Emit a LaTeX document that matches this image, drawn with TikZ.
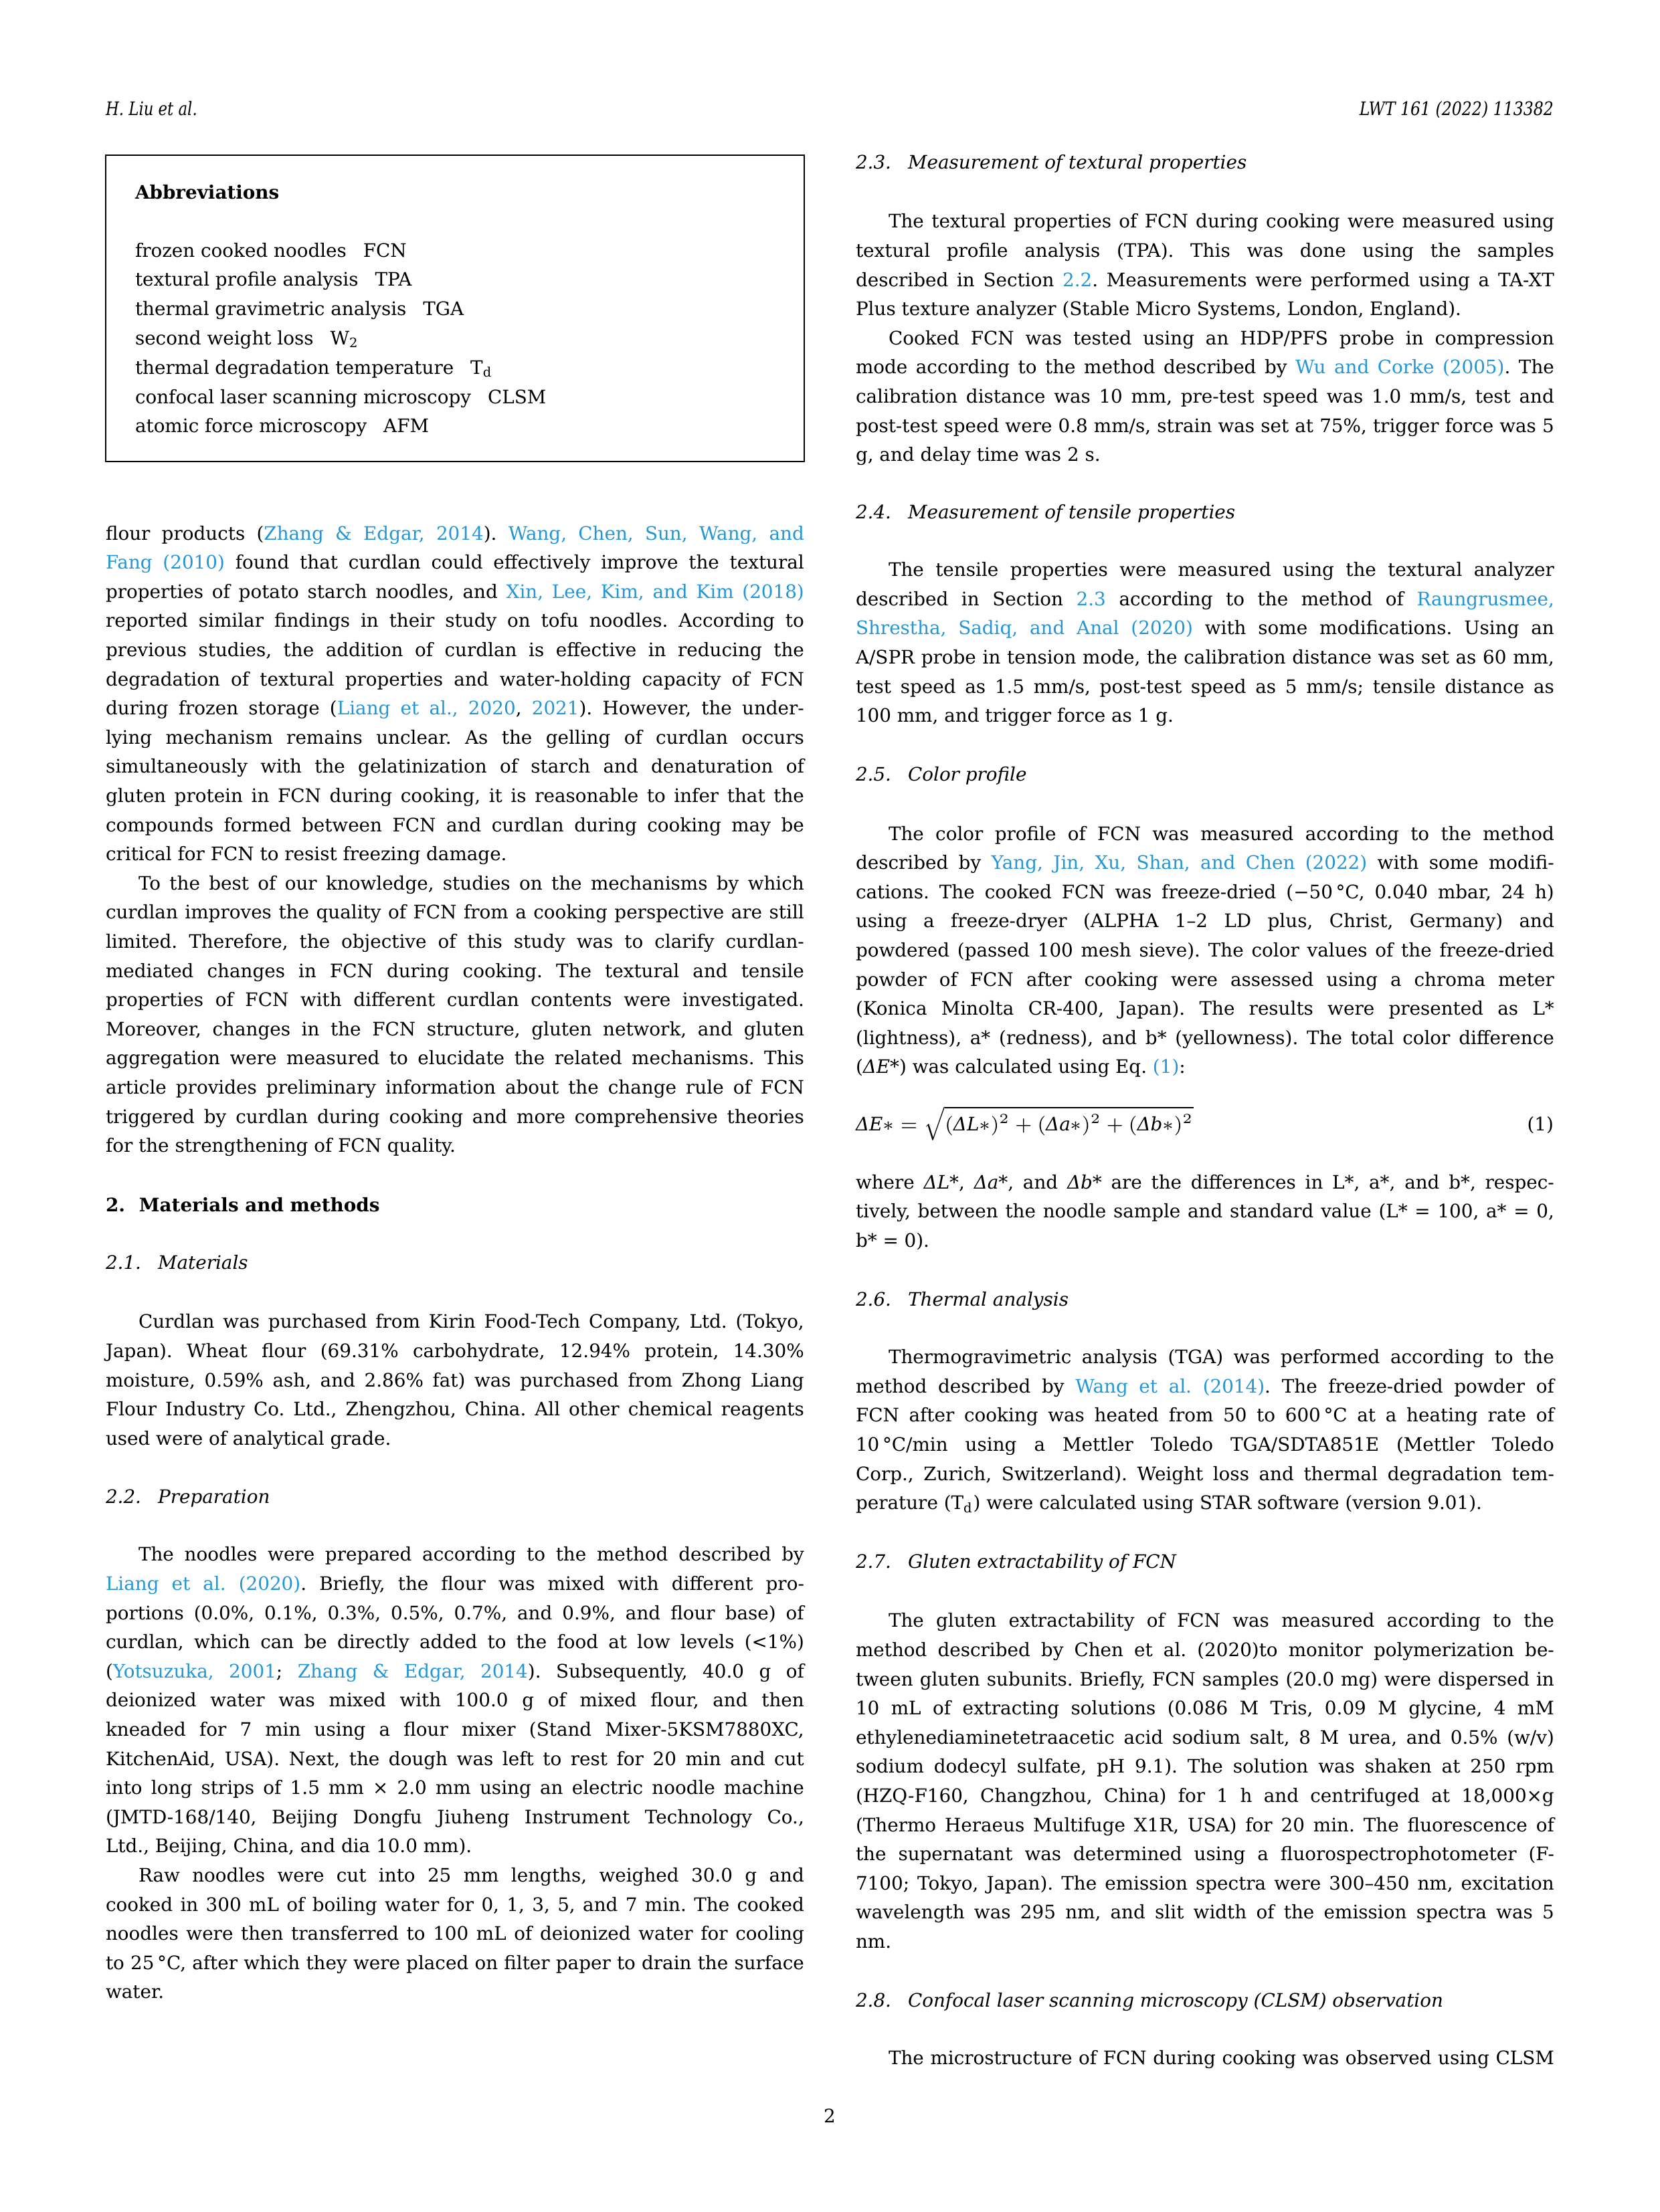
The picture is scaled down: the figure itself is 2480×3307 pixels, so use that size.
\documentclass[tikz,border=0pt]{standalone}
\usepackage{amsmath}
\usepackage{graphicx}
\usepackage{fontspec}
\setmainfont{DejaVu Serif}
\usetikzlibrary{positioning}
\frenchspacing

\definecolor{linkblue}{RGB}{35,150,215}
\newcommand{\pagefont}{\fontsize{6.7pt}{10.4pt}\selectfont}
\newcommand{\lk}[1]{\textcolor{linkblue}{#1}}
\newlength{\colw}\setlength{\colw}{8.840cm}
\newlength{\indw}\setlength{\indw}{8.425cm}
\newsavebox{\linebox}
% justify a line to #1, squeeze it a little if it is too long
\newcommand{\fitline}[2]{\sbox{\linebox}{#2}\ifdim\wd\linebox>#1\relax\resizebox{#1}{\height}{\usebox{\linebox}}\else\makebox[#1][s]{#2}\fi}

\tikzset{
  txt/.style={anchor=base west,inner sep=0pt,outer sep=0pt,font=\pagefont},
  heading/.style={txt,font=\pagefont\itshape},
  boxline/.style={line width=0.45pt}
}
% full line, indented first line, last line of a paragraph
\newcommand{\jline}[4]{\node[txt] (#1) at (#2,#3) {\fitline{\colw}{#4}};}
\newcommand{\iline}[4]{\node[txt] (#1) at (#2+49,#3) {\fitline{\indw}{#4}};}
\newcommand{\eline}[4]{\node[txt] (#1) at (#2,#3) {#4};}

\begin{document}
\begin{tikzpicture}[x=0.0084677cm,y=-0.0084677cm]
  % Page
  \fill[white] (0,0) rectangle (2480,3307);
  \useasboundingbox (0,0) rectangle (2480,3307);
  % Running head
  \node[heading] (author) at (158,172) {\scalebox{0.82}[1]{H. Liu et al.}};
  \node[heading,anchor=base east] (journal) at (2322,172) {\scalebox{0.85}[1]{LWT 161 (2022) 113382}};
  \node[txt,anchor=base] (pageno) at (1240,3173) {2};

  % Abbreviations box
  \draw[boxline] (158,232) rectangle (1202,690);
  \node[txt,font=\pagefont\bfseries] (abbr) at (202,297) {Abbreviations};
  \node[txt] (t1) at (202,384) {frozen cooked noodles};
  \node[txt] (t2) at (202,384+43.8) {textural profile analysis};
  \node[txt] (t3) at (202,384+2*43.8) {thermal gravimetric analysis};
  \node[txt] (t4) at (202,384+3*43.8) {second weight loss};
  \node[txt] (t5) at (202,384+4*43.8) {thermal degradation temperature};
  \node[txt] (t6) at (202,384+5*43.8) {confocal laser scanning microscopy};
  \node[txt] (t7) at (202,384+6*43.8) {atomic force microscopy};
  \node[txt] (c1) at ([xshift=6pt]t1.base east) {FCN};
  \node[txt] (c2) at ([xshift=6pt]t2.base east) {TPA};
  \node[txt] (c3) at ([xshift=6pt]t3.base east) {TGA};
  \node[txt] (c4) at ([xshift=6pt]t4.base east) {W\textsubscript{2}};
  \node[txt] (c5) at ([xshift=6pt]t5.base east) {T\textsubscript{d}};
  \node[txt] (c6) at ([xshift=6pt]t6.base east) {CLSM};
  \node[txt] (c7) at ([xshift=6pt]t7.base east) {AFM};

  % Left column: introduction, end
  \jline{a1}{158}{807}{flour products (\lk{Zhang \& Edgar, 2014}). \lk{Wang, Chen, Sun, Wang, and}}
  \jline{a2}{158}{807+43.6}{\lk{Fang (2010)} found that curdlan could effectively improve the textural}
  \jline{a3}{158}{807+2*43.6}{properties of potato starch noodles, and \lk{Xin, Lee, Kim, and Kim (2018)}}
  \jline{a4}{158}{807+3*43.6}{reported similar findings in their study on tofu noodles. According to}
  \jline{a5}{158}{807+4*43.6}{previous studies, the addition of curdlan is effective in reducing the}
  \jline{a6}{158}{807+5*43.6}{degradation of textural properties and water-holding capacity of FCN}
  \jline{a7}{158}{807+6*43.6}{during frozen storage (\lk{Liang et al., 2020}, \lk{2021}). However, the under-}
  \jline{a8}{158}{807+7*43.6}{lying mechanism remains unclear. As the gelling of curdlan occurs}
  \jline{a9}{158}{807+8*43.6}{simultaneously with the gelatinization of starch and denaturation of}
  \jline{a10}{158}{807+9*43.6}{gluten protein in FCN during cooking, it is reasonable to infer that the}
  \jline{a11}{158}{807+10*43.6}{compounds formed between FCN and curdlan during cooking may be}
  \eline{a12}{158}{807+11*43.6}{critical for FCN to resist freezing damage.}
  \iline{b1}{158}{807+12*43.6}{To the best of our knowledge, studies on the mechanisms by which}
  \jline{b2}{158}{807+13*43.6}{curdlan improves the quality of FCN from a cooking perspective are still}
  \jline{b3}{158}{807+14*43.6}{limited. Therefore, the objective of this study was to clarify curdlan-}
  \jline{b4}{158}{807+15*43.6}{mediated changes in FCN during cooking. The textural and tensile}
  \jline{b5}{158}{807+16*43.6}{properties of FCN with different curdlan contents were investigated.}
  \jline{b6}{158}{807+17*43.6}{Moreover, changes in the FCN structure, gluten network, and gluten}
  \jline{b7}{158}{807+18*43.6}{aggregation were measured to elucidate the related mechanisms. This}
  \jline{b8}{158}{807+19*43.6}{article provides preliminary information about the change rule of FCN}
  \jline{b9}{158}{807+20*43.6}{triggered by curdlan during cooking and more comprehensive theories}
  \eline{b10}{158}{807+21*43.6}{for the strengthening of FCN quality.}

  % Left column: section 2
  \node[txt,font=\pagefont\bfseries] (s2) at (158,1811) {2.\hspace{0.75em}Materials and methods};
  \node[heading] (s21) at (158,1897.3) {2.1.\hspace{0.9em}Materials};
  \iline{c1l}{158}{1985.8}{Curdlan was purchased from Kirin Food-Tech Company, Ltd. (Tokyo,}
  \jline{c2l}{158}{1985.8+43.6}{Japan). Wheat flour (69.31\% carbohydrate, 12.94\% protein, 14.30\%}
  \jline{c3l}{158}{1985.8+2*43.6}{moisture, 0.59\% ash, and 2.86\% fat) was purchased from Zhong Liang}
  \jline{c4l}{158}{1985.8+3*43.6}{Flour Industry Co. Ltd., Zhengzhou, China. All other chemical reagents}
  \eline{c5l}{158}{1985.8+4*43.6}{used were of analytical grade.}
  \node[heading] (s22) at (158,2247.3) {2.2.\hspace{0.9em}Preparation};
  \iline{d1}{158}{2333.8}{The noodles were prepared according to the method described by}
  \jline{d2}{158}{2333.8+43.6}{\lk{Liang et al. (2020)}. Briefly, the flour was mixed with different pro-}
  \jline{d3}{158}{2333.8+2*43.6}{portions (0.0\%, 0.1\%, 0.3\%, 0.5\%, 0.7\%, and 0.9\%, and flour base) of}
  \jline{d4}{158}{2333.8+3*43.6}{curdlan, which can be directly added to the food at low levels (<1\%)}
  \jline{d5}{158}{2333.8+4*43.6}{(\lk{Yotsuzuka, 2001}; \lk{Zhang \& Edgar, 2014}). Subsequently, 40.0 g of}
  \jline{d6}{158}{2333.8+5*43.6}{deionized water was mixed with 100.0 g of mixed flour, and then}
  \jline{d7}{158}{2333.8+6*43.6}{kneaded for 7 min using a flour mixer (Stand Mixer-5KSM7880XC,}
  \jline{d8}{158}{2333.8+7*43.6}{KitchenAid, USA). Next, the dough was left to rest for 20 min and cut}
  \jline{d9}{158}{2333.8+8*43.6}{into long strips of 1.5 mm × 2.0 mm using an electric noodle machine}
  \jline{d10}{158}{2333.8+9*43.6}{(JMTD-168/140, Beijing Dongfu Jiuheng Instrument Technology Co.,}
  \eline{d11}{158}{2333.8+10*43.6}{Ltd., Beijing, China, and dia 10.0 mm).}
  \iline{e1}{158}{2813.4}{Raw noodles were cut into 25 mm lengths, weighed 30.0 g and}
  \jline{e2}{158}{2813.4+43.6}{cooked in 300 mL of boiling water for 0, 1, 3, 5, and 7 min. The cooked}
  \jline{e3}{158}{2813.4+2*43.6}{noodles were then transferred to 100 mL of deionized water for cooling}
  \jline{e4}{158}{2813.4+3*43.6}{to 25\,°C, after which they were placed on filter paper to drain the surface}
  \eline{e5}{158}{2813.4+4*43.6}{water.}

  % Right column: 2.3 and 2.4
  \node[heading] (s23) at (1279,252.2) {2.3.\hspace{0.9em}Measurement of textural properties};
  \iline{f1}{1279}{340.8}{The textural properties of FCN during cooking were measured using}
  \jline{f2}{1279}{340.8+43.6}{textural profile analysis (TPA). This was done using the samples}
  \jline{f3}{1279}{340.8+2*43.6}{described in Section \lk{2.2}. Measurements were performed using a TA-XT}
  \eline{f4}{1279}{340.8+3*43.6}{Plus texture analyzer (Stable Micro Systems, London, England).}
  \iline{f5}{1279}{340.8+4*43.6}{Cooked FCN was tested using an HDP/PFS probe in compression}
  \jline{f6}{1279}{340.8+5*43.6}{mode according to the method described by \lk{Wu and Corke (2005)}. The}
  \jline{f7}{1279}{340.8+6*43.6}{calibration distance was 10 mm, pre-test speed was 1.0 mm/s, test and}
  \jline{f8}{1279}{340.8+7*43.6}{post-test speed were 0.8 mm/s, strain was set at 75\%, trigger force was 5}
  \eline{f9}{1279}{340.8+8*43.6}{g, and delay time was 2 s.}
  \node[heading] (s24) at (1279,775.3) {2.4.\hspace{0.9em}Measurement of tensile properties};
  \iline{g1}{1279}{861.7}{The tensile properties were measured using the textural analyzer}
  \jline{g2}{1279}{861.7+43.6}{described in Section \lk{2.3} according to the method of \lk{Raungrusmee,}}
  \jline{g3}{1279}{861.7+2*43.6}{\lk{Shrestha, Sadiq, and Anal (2020)} with some modifications. Using an}
  \jline{g4}{1279}{861.7+3*43.6}{A/SPR probe in tension mode, the calibration distance was set as 60 mm,}
  \jline{g5}{1279}{861.7+4*43.6}{test speed as 1.5 mm/s, post-test speed as 5 mm/s; tensile distance as}
  \eline{g6}{1279}{861.7+5*43.6}{100 mm, and trigger force as 1 g.}

  % Right column: 2.5 colour
  \node[heading] (s25) at (1279,1167.5) {2.5.\hspace{0.9em}Color profile};
  \iline{h1}{1279}{1256.1}{The color profile of FCN was measured according to the method}
  \jline{h2}{1279}{1256.1+43.6}{described by \lk{Yang, Jin, Xu, Shan, and Chen (2022)} with some modifi-}
  \jline{h3}{1279}{1256.1+2*43.6}{cations. The cooked FCN was freeze-dried (−50\,°C, 0.040 mbar, 24 h)}
  \jline{h4}{1279}{1256.1+3*43.6}{using a freeze-dryer (ALPHA 1–2 LD plus, Christ, Germany) and}
  \jline{h5}{1279}{1256.1+4*43.6}{powdered (passed 100 mesh sieve). The color values of the freeze-dried}
  \jline{h6}{1279}{1256.1+5*43.6}{powder of FCN after cooking were assessed using a chroma meter}
  \jline{h7}{1279}{1256.1+6*43.6}{(Konica Minolta CR-400, Japan). The results were presented as L*}
  \jline{h8}{1279}{1256.1+7*43.6}{(lightness), a* (redness), and b* (yellowness). The total color difference}
  \eline{h9}{1279}{1256.1+8*43.6}{(\textit{ΔE*}) was calculated using Eq. \lk{(1)}:}
  % Equation (1)
  \node[txt] (eq) at (1279,1690.6) {$\textit{ΔE}{\ast}=\sqrt{\left(\textit{ΔL}{\ast}\right)^{2}+\left(\textit{Δa}{\ast}\right)^{2}+\left(\textit{Δb}{\ast}\right)^{2}}$};
  \node[txt,anchor=base east] (eqno) at (2322,1690.6) {(1)};
  \jline{i1}{1279}{1777}{where \textit{ΔL*}, \textit{Δa*}, and \textit{Δb*} are the differences in L*, a*, and b*, respec-}
  \jline{i2}{1279}{1777+43.6}{tively, between the noodle sample and standard value (L* = 100, a* = 0,}
  \eline{i3}{1279}{1777+2*43.6}{b* = 0).}

  % Right column: 2.6 to 2.8
  \node[heading] (s26) at (1279,1952.1) {2.6.\hspace{0.9em}Thermal analysis};
  \iline{j1}{1279}{2038.6}{Thermogravimetric analysis (TGA) was performed according to the}
  \jline{j2}{1279}{2038.6+43.6}{method described by \lk{Wang et al. (2014)}. The freeze-dried powder of}
  \jline{j3}{1279}{2038.6+2*43.6}{FCN after cooking was heated from 50 to 600\,°C at a heating rate of}
  \jline{j4}{1279}{2038.6+3*43.6}{10\,°C/min using a Mettler Toledo TGA/SDTA851E (Mettler Toledo}
  \jline{j5}{1279}{2038.6+4*43.6}{Corp., Zurich, Switzerland). Weight loss and thermal degradation tem-}
  \eline{j6}{1279}{2038.6+5*43.6}{perature (T\textsubscript{d}) were calculated using STAR software (version 9.01).}
  \node[heading] (s27) at (1279,2344.4) {2.7.\hspace{0.9em}Gluten extractability of FCN};
  \iline{k1}{1279}{2432.9}{The gluten extractability of FCN was measured according to the}
  \jline{k2}{1279}{2432.9+43.6}{method described by Chen et al. (2020)to monitor polymerization be-}
  \jline{k3}{1279}{2432.9+2*43.6}{tween gluten subunits. Briefly, FCN samples (20.0 mg) were dispersed in}
  \jline{k4}{1279}{2432.9+3*43.6}{10 mL of extracting solutions (0.086 M Tris, 0.09 M glycine, 4 mM}
  \jline{k5}{1279}{2432.9+4*43.6}{ethylenediaminetetraacetic acid sodium salt, 8 M urea, and 0.5\% (w/v)}
  \jline{k6}{1279}{2432.9+5*43.6}{sodium dodecyl sulfate, pH 9.1). The solution was shaken at 250 rpm}
  \jline{k7}{1279}{2432.9+6*43.6}{(HZQ-F160, Changzhou, China) for 1 h and centrifuged at 18,000×g}
  \jline{k8}{1279}{2432.9+7*43.6}{(Thermo Heraeus Multifuge X1R, USA) for 20 min. The fluorescence of}
  \jline{k9}{1279}{2432.9+8*43.6}{the supernatant was determined using a fluorospectrophotometer (F-}
  \jline{k10}{1279}{2432.9+9*43.6}{7100; Tokyo, Japan). The emission spectra were 300–450 nm, excitation}
  \jline{k11}{1279}{2432.9+10*43.6}{wavelength was 295 nm, and slit width of the emission spectra was 5}
  \eline{k12}{1279}{2432.9+11*43.6}{nm.}
  \node[heading] (s28) at (1279,3000.3) {2.8.\hspace{0.9em}Confocal laser scanning microscopy (CLSM) observation};
  \iline{l1}{1279}{3086.8}{The microstructure of FCN during cooking was observed using CLSM}
\end{tikzpicture}
\end{document}
